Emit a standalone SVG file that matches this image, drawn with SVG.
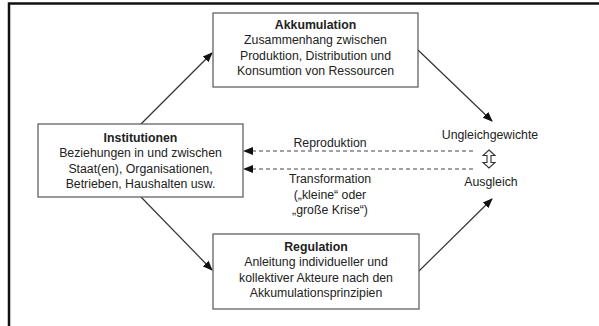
<svg xmlns="http://www.w3.org/2000/svg" width="599" height="326" viewBox="0 0 599 326">
<defs>
<style>
.box{fill:#fff;stroke:#555;stroke-width:1.2}
.t{font-family:"Liberation Sans",Arial,sans-serif;font-size:12.3px;fill:#222;text-anchor:middle}
.b{font-weight:bold}
.ln{stroke:#333;stroke-width:1.2;fill:none}
.ds{stroke:#444;stroke-width:1.1;stroke-dasharray:4,3;fill:none}
</style>
<marker id="ah" markerWidth="10" markerHeight="10" refX="9" refY="5" orient="auto" markerUnits="userSpaceOnUse">
<path d="M0,1 L10,5 L0,9 Z" fill="#111"/>
</marker>
</defs>
<rect width="599" height="326" fill="#fff"/>
<path d="M9,326 V3.5 H599" stroke="#111" stroke-width="2.5" fill="none"/>
<g id="connectors">
<line class="ln" x1="141" y1="124" x2="212" y2="53" marker-end="url(#ah)"/>
<line class="ln" x1="418" y1="50" x2="492" y2="121" marker-end="url(#ah)"/>
<line class="ln" x1="141" y1="197" x2="212" y2="270" marker-end="url(#ah)"/>
<line class="ln" x1="419" y1="271" x2="492" y2="199" marker-end="url(#ah)"/>
<line class="ds" x1="473" y1="151" x2="244" y2="151" marker-end="url(#ah)"/>
<line class="ds" x1="473" y1="169" x2="244" y2="169" marker-end="url(#ah)"/>
<polygon points="489,150 495,155.5 491,155.5 491,162.5 495,162.5 489,168 483,162.5 487,162.5 487,155.5 483,155.5" fill="#fff" stroke="#333" stroke-width="1.1"/>
<text class="t" x="330" y="147">Reproduktion</text>
<text class="t" x="330" y="183">Transformation</text>
<text class="t" x="330" y="199">(„kleine“ oder</text>
<text class="t" x="330" y="214">„große Krise“)</text>
</g>
<g id="akkumulation">
<rect class="box" x="213" y="13" width="205" height="74"/>
<text class="t b" x="315.5" y="29">Akkumulation</text>
<text class="t" x="315.5" y="44">Zusammenhang zwischen</text>
<text class="t" x="315.5" y="60">Produktion, Distribution und</text>
<text class="t" x="315.5" y="75">Konsumtion von Ressourcen</text>
</g>
<g id="institutionen">
<rect class="box" x="38" y="124" width="205" height="73"/>
<text class="t b" x="140.5" y="142">Institutionen</text>
<text class="t" x="140.5" y="157">Beziehungen in und zwischen</text>
<text class="t" x="140.5" y="173">Staat(en), Organisationen,</text>
<text class="t" x="140.5" y="188">Betrieben, Haushalten usw.</text>
</g>
<g id="regulation">
<rect class="box" x="213" y="234" width="206" height="75"/>
<text class="t b" x="316" y="251">Regulation</text>
<text class="t" x="316" y="266">Anleitung individueller und</text>
<text class="t" x="316" y="282">kollektiver Akteure nach den</text>
<text class="t" x="316" y="297">Akkumulationsprinzipien</text>
</g>
<g id="ungleichgewichte">
<text class="t" x="490" y="139">Ungleichgewichte</text>
</g>
<g id="ausgleich">
<text class="t" x="491" y="186">Ausgleich</text>
</g>
</svg>
